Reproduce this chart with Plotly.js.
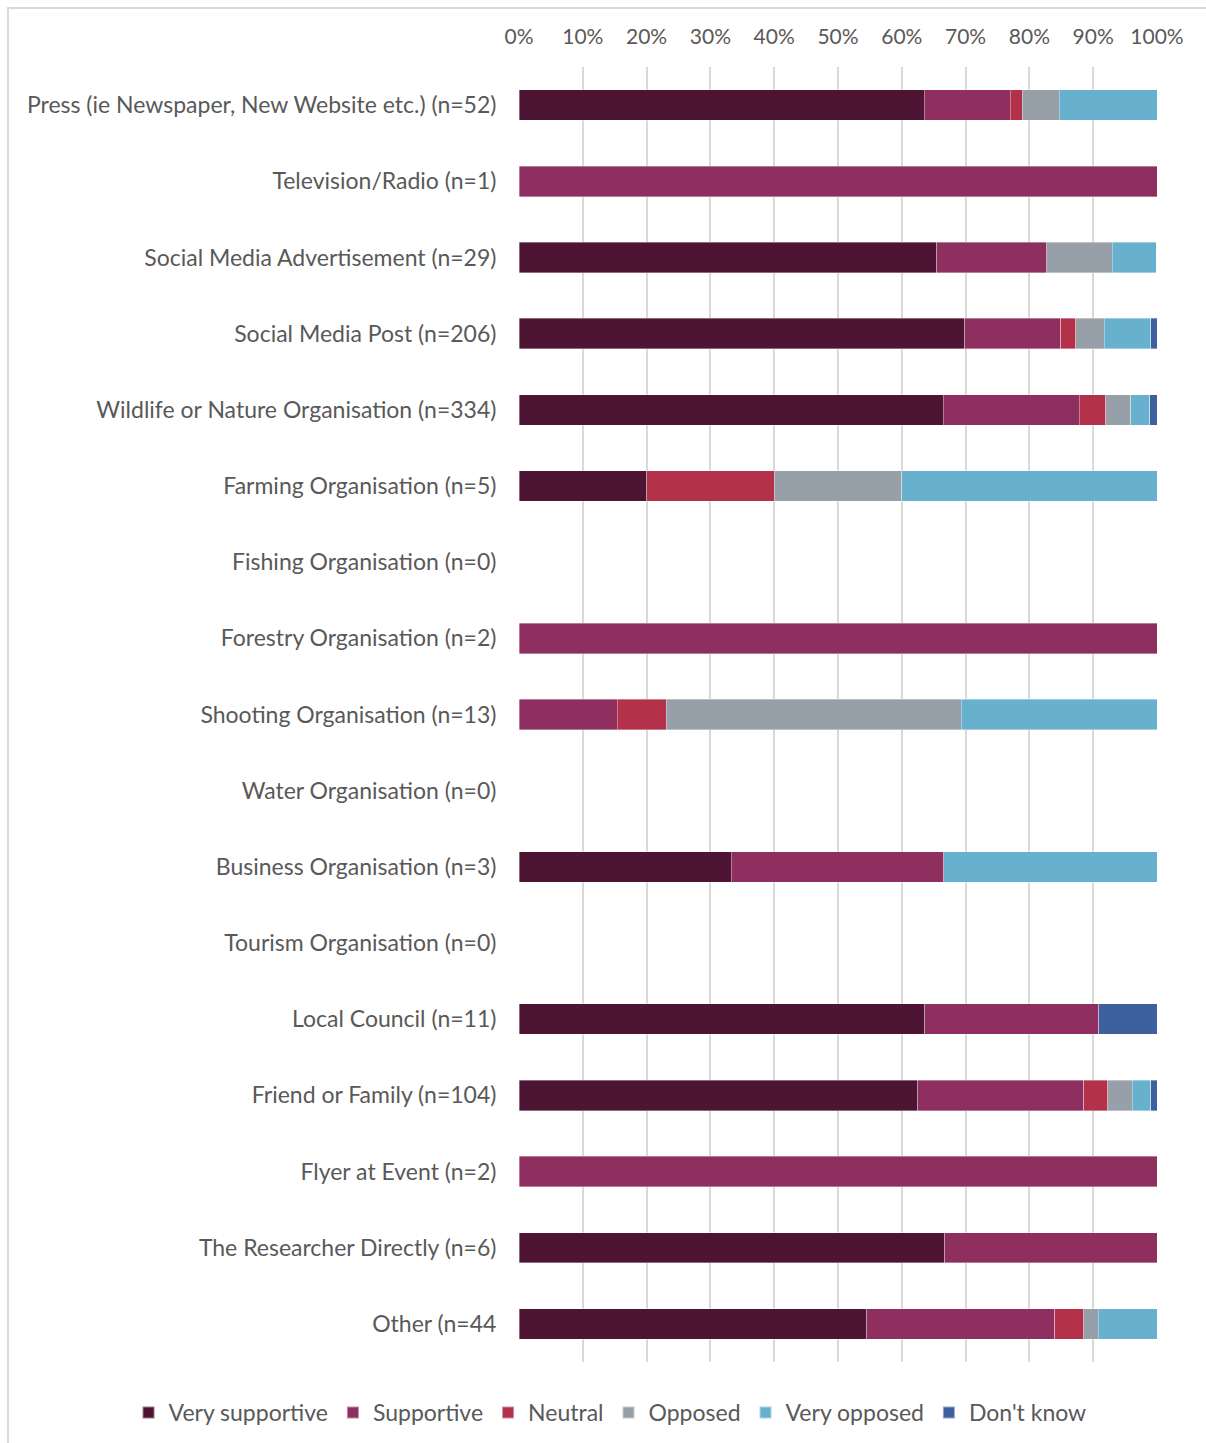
<!DOCTYPE html>
<html>
<head>
<meta charset="utf-8">
<script src="https://cdn.plot.ly/plotly-3.0.1.min.js"></script>
<style>
  html, body { margin: 0; padding: 0; background: #fff; }
  #wrap { position: relative; width: 1206px; height: 1443px; overflow: hidden; }
  #frame { position: absolute; left: 7px; top: 7px; width: 1300px; height: 1500px; border-left: 2px solid #d9d9d9; border-top: 2px solid #d9d9d9; box-sizing: border-box; pointer-events: none; }
  #chart { position: absolute; left: 0; top: 0; width: 1206px; height: 1443px; }
</style>
</head>
<body>
<div id="wrap">
  <div id="chart"></div>
  <div id="frame"></div>
</div>
<script>
const categories = [
  "Press (ie Newspaper, New Website etc.) (n=52)",
  "Television/Radio (n=1)",
  "Social Media Advertisement (n=29)",
  "Social Media Post (n=206)",
  "Wildlife or Nature Organisation (n=334)",
  "Farming Organisation (n=5)",
  "Fishing Organisation (n=0)",
  "Forestry Organisation (n=2)",
  "Shooting Organisation (n=13)",
  "Water Organisation (n=0)",
  "Business Organisation (n=3)",
  "Tourism Organisation (n=0)",
  "Local Council (n=11)",
  "Friend or Family (n=104)",
  "Flyer at Event (n=2)",
  "The Researcher Directly (n=6)",
  "Other (n=44"
];

const seriesNames = ["Very supportive", "Supportive", "Neutral", "Opposed", "Very opposed", "Don't know"];

const verySupportive = [63.5, null, 65.5, 69.9, 66.5, 20, null, null, null, null, 33.3, null, 63.6, 62.5, null, 66.7, 54.5];
const supportive     = [13.5, 100, 17.2, 15.0, 21.3, null, null, 100, 15.4, null, 33.3, null, 27.3, 26.0, 100, 33.3, 29.5];
const neutral        = [1.9, null, null, 2.4, 4.2, 20, null, null, 7.7, null, null, null, null, 3.8, null, null, 4.5];
const opposed        = [5.8, null, 10.3, 4.4, 3.9, 20, null, null, 46.2, null, null, null, null, 3.8, null, null, 2.3];
const veryOpposed    = [15.4, null, 6.9, 7.3, 3.0, 40, null, null, 30.8, null, 33.4, null, null, 2.9, null, null, 9.2];
const dontKnow       = [null, null, null, 1.0, 1.2, null, null, null, null, null, null, null, 9.1, 1.0, null, null, null];

const tickValues = [0, 10, 20, 30, 40, 50, 60, 70, 80, 90, 100];
const tickLabels = ["0%", "10%", "20%", "30%", "40%", "50%", "60%", "70%", "80%", "90%", "100%"];

const colors = ["#4D1533", "#8E2F5F", "#B3324A", "#979FA8", "#67B1CF", "#3F609E"];
const allSeries = [verySupportive, supportive, neutral, opposed, veryOpposed, dontKnow];

const FONT = "Lato, 'Noto Sans', sans-serif";

const data = allSeries.map((vals, i) => ({
  type: "bar",
  orientation: "h",
  name: seriesNames[i],
  x: vals,
  y: categories,
  marker: { color: colors[i], line: { color: "rgba(255,255,255,0.45)", width: 0.8 } },
  hoverinfo: "x+y+name"
}));

const layout = {
  width: 1206,
  height: 1443,
  paper_bgcolor: "rgba(0,0,0,0)",
  plot_bgcolor: "rgba(0,0,0,0)",
  barmode: "stack",
  bargap: 0.6,
  margin: { l: 519, r: 49, t: 67, b: 81, pad: 0, autoexpand: false },
  font: { family: FONT, size: 22, color: "#595959" },
  xaxis: {
    side: "top",
    range: [0, 100],
    tickvals: tickValues,
    ticktext: tickLabels,
    showgrid: true,
    gridcolor: "#d9d9d9",
    gridwidth: 2,
    zeroline: false,
    showline: false,
    ticks: "outside",
    ticklen: 14,
    tickcolor: "rgba(0,0,0,0)",
    tickfont: { family: FONT, size: 21, color: "#595959" },
    fixedrange: true
  },
  yaxis: {
    autorange: "reversed",
    type: "category",
    showgrid: false,
    zeroline: false,
    showline: false,
    ticks: "outside",
    ticklen: 17,
    tickcolor: "rgba(0,0,0,0)",
    tickfont: { family: FONT, size: 23, color: "#595959" },
    fixedrange: true
  },
  showlegend: true,
  legend: {
    orientation: "h",
    xref: "paper",
    yref: "paper",
    x: -0.612,
    xanchor: "left",
    y: -0.039,
    yanchor: "middle",
    font: { family: FONT, size: 23, color: "#595959" },
    traceorder: "normal",
    itemwidth: 30,
    itemsizing: "constant"
  }
};

Plotly.newPlot("chart", data, layout, { displayModeBar: false, staticPlot: true });
</script>
</body>
</html>
